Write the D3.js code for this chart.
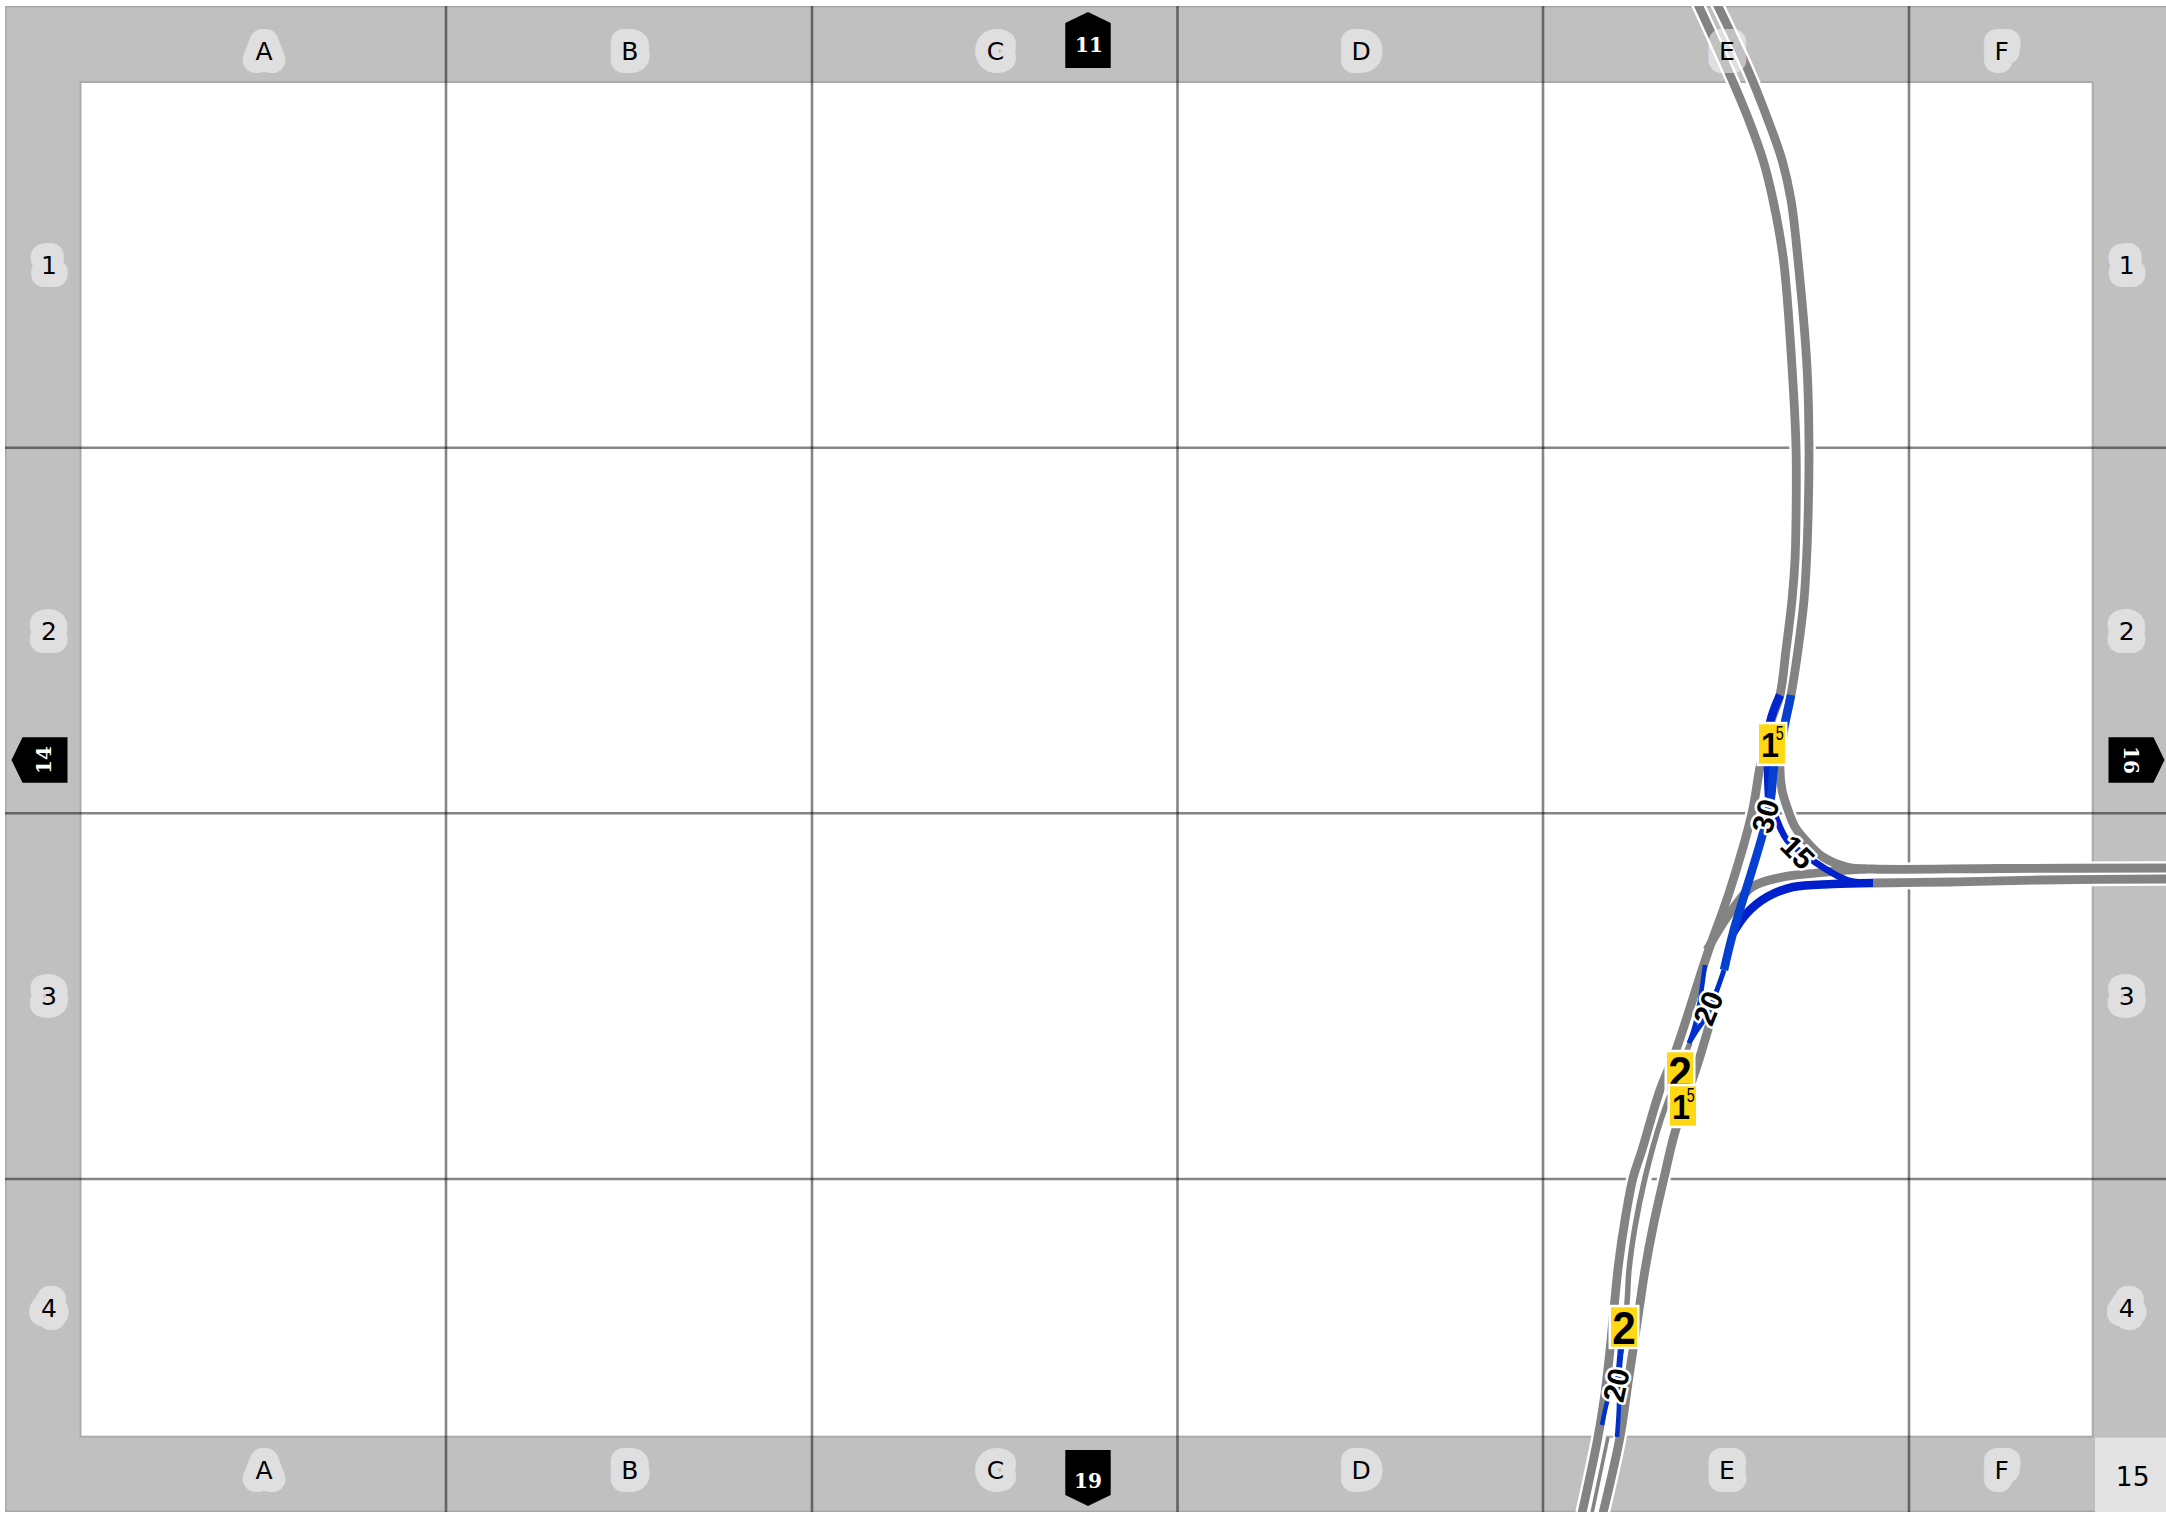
<!DOCTYPE html>
<html>
<head>
<meta charset="utf-8">
<script src="https://cdn.jsdelivr.net/npm/d3@7"></script>
<style>
  body { margin: 0; background: #fff; }
  svg { display: block; }
</style>
</head>
<body>
<div id="map"></div>
<script>
// Plan values, in map units measured from the plan's top left corner
const colLabels = ["A", "B", "C", "D", "E", "F"]
const rowLabels = ["1", "2", "3", "4"]
const colEdges = [0.5, 366, 732, 1097.5, 1463, 1829, 2012.7]
const rowEdges = [0, 365.7, 731.3, 1097, 1354.7]
const sheetNumber = "15"

const trackWestMain = [[1616,-82],[1650,-7],[1668,36],[1683,78],[1693,118],[1703.5,178],[1712,285],[1716,365],[1716,438],[1715,478],[1712,518],[1706,568],[1700,613],[1690,642],[1680,685],[1672,731],[1650,808],[1627,873],[1596,968],[1580,1008],[1562,1068],[1553,1096],[1545,1138],[1538.7,1181],[1534.5,1221],[1530,1268],[1525,1311],[1518,1355],[1502,1431]]
const trackEastMain = [[1635,-82],[1668,-12],[1688,38],[1702,78],[1711,118],[1718,178],[1727,285],[1729,365],[1728,438],[1726.5,478],[1724,518],[1718,568],[1711,613],[1705,641],[1700,685],[1702,708],[1707,725],[1715,745],[1727,760],[1743,775],[1767,785],[1793,787],[1920,786.5],[2090,786]]
const trackCurveSW = [[1627,868],[1650,831],[1672,805],[1703,795],[1737,791],[1767,788],[1787,787]]
const trackEastLower = [[1793,801],[1870,800],[1960,798],[2090,797]]
const trackSouthRight = [[1636,921],[1627,951],[1618,981],[1595,1050],[1584,1096],[1573,1145],[1565,1188],[1560,1221],[1553,1268],[1548,1301],[1540,1355],[1523,1431]]
const trackSouthCentre = [[1610,961],[1581,1038],[1565,1096],[1555,1145],[1549,1188],[1547,1221],[1541,1271]]
const trackSouthCentreEnd = [[1528,1355],[1512,1431]]

const slowCurveTop = [[1700,613],[1690,641],[1688,685],[1689,715]]
const slowCurveEast = [[1689,715],[1697,738],[1707,758],[1732,778],[1767,798],[1793,801]]
const slowStraight = [[1711,613],[1705,641],[1694,685],[1691,715],[1683,751],[1653,851],[1644,888]]
const slowCurveSouth = [[1793,801],[1753,802],[1713,805],[1687,815],[1667,831],[1653,851]]
const slowJoinRight = [[1644,888],[1637,908],[1627,933],[1617,948],[1609,961]]
const slowJoinLeft = [[1625,883],[1620,918],[1615,943],[1609,961]]
const slowFootCentre = [[1541,1265],[1538,1298]]
const slowFootLeft = [[1538,1298],[1530,1311],[1522,1343]]
const slowFootRight = [[1538,1298],[1539,1321],[1537,1355]]

const signNames = [["1", "5"], ["2", ""], ["1", "5"], ["2", ""]]
const signSpots = [[1692,662],[1600,990],[1603,1024],[1544,1245]]
const speedNames = ["30", "15", "20", "20"]
const speedSpots = [[1685,734],[1718,770],[1628,926],[1536,1303]]
const speedAngles = [-75, 45, -68, -78]
const badgeNames = ["11", "19", "14", "16"]
const badgeSpots = [[1008,-42],[1008,1396],[-40.5,678],[2056.5,678]]
const badgeAngles = [0, 180, -90, 90]
const badgeTextAngles = [0, 0, -90, 90]

const WIDTH = 2166
const HEIGHT = 1513

const x = d3.scaleLinear().domain([0, 2086]).range([80, WIDTH])
const y = d3.scaleLinear().domain([0, 1431]).range([82, HEIGHT])

const svg = d3.select("#map").append("svg")
  .attr("width", WIDTH)
  .attr("height", HEIGHT)

svg.append("defs").append("clipPath").attr("id", "sheet")
  .append("rect")
  .attr("x", 5).attr("y", 6)
  .attr("width", WIDTH - 5).attr("height", 1506)

const g = svg.append("g").attr("clip-path", "url(#sheet)")

const innerW = colEdges[colEdges.length - 1]
const innerH = rowEdges[rowEdges.length - 1]

// Frame
g.append("rect")
  .attr("x", 5.5).attr("y", 6.5)
  .attr("width", WIDTH).attr("height", 1505)
  .attr("fill", "#c0c0c0")
  .attr("stroke", "#a8a8a8")
  .attr("stroke-width", 2)

g.append("rect")
  .attr("x", x(colEdges[0])).attr("y", y(0))
  .attr("width", x(innerW) - x(colEdges[0])).attr("height", y(innerH) - y(0))
  .attr("fill", "#fff")
  .attr("stroke", "#aaa")
  .attr("stroke-width", 2)

// Grid
g.selectAll(".col-line").data(colEdges.slice(1, -1)).enter().append("line")
  .attr("x1", d => x(d)).attr("x2", d => x(d))
  .attr("y1", y(-76)).attr("y2", y(1430))
  .attr("stroke", "#000").attr("stroke-opacity", 0.48).attr("stroke-width", 2.6)

g.selectAll(".row-line").data(rowEdges.slice(1, -1)).enter().append("line")
  .attr("y1", d => y(d)).attr("y2", d => y(d))
  .attr("x1", x(-75)).attr("x2", WIDTH)
  .attr("stroke", "#000").attr("stroke-opacity", 0.48).attr("stroke-width", 2.6)

// Corner sheet number
g.append("rect")
  .attr("x", x(2015)).attr("y", y(1355.7))
  .attr("width", 80).attr("height", 80)
  .attr("fill", "#e3e3e3")

const trackLine = d3.line()
  .x(d => x(d[0]))
  .y(d => y(d[1]))
  .curve(d3.curveCatmullRom.alpha(0.5))

function drawTrack(points, stroke, width) {
  g.append("path")
    .attr("d", trackLine(points))
    .attr("fill", "none")
    .attr("stroke", stroke)
    .attr("stroke-width", width)
}

const GREY = "#838383"
const CASING = 13.5
const TRACK = 8.8

// Centre track sits between the two outer ones, so their casings trim it
drawTrack(trackSouthCentre, "#fff", CASING)
drawTrack(trackSouthCentreEnd, "#fff", CASING)

const casedTracks = [trackCurveSW, trackEastLower, trackWestMain, trackEastMain, trackSouthRight]
casedTracks.forEach(t => drawTrack(t, "#fff", CASING))
drawTrack(trackSouthCentre, GREY, 5.5)
drawTrack(trackSouthCentreEnd, GREY, 3.6)
casedTracks.forEach(t => drawTrack(t, GREY, TRACK))

// Slow sections
drawTrack(slowCurveSouth, "#0020cc", 8.5)
drawTrack(slowCurveEast, "#0020cc", 6.5)
drawTrack(slowCurveTop, "#0026cc", 8.5)
drawTrack(slowStraight, "#0640d0", 8.5)
drawTrack(slowJoinRight, "#0030cc", 5)
drawTrack(slowJoinLeft, "#0030cc", 4.5)
drawTrack(slowFootCentre, "#0030cc", 6)
drawTrack(slowFootLeft, "#0030cc", 4.5)
drawTrack(slowFootRight, "#0030cc", 4.5)

// Speed numbers
g.selectAll(".speed").data(speedNames).enter().append("text")
  .attr("transform", (d, i) => `translate(${x(speedSpots[i][0])}, ${y(speedSpots[i][1])}) rotate(${speedAngles[i]})`)
  .attr("text-anchor", "middle")
  .attr("dy", "0.36em")
  .attr("font-family", "Liberation Sans")
  .attr("font-weight", "bold")
  .attr("font-size", 30)
  .attr("fill", "#000")
  .attr("stroke", "#fff")
  .attr("stroke-width", 5)
  .attr("stroke-linejoin", "round")
  .attr("paint-order", "stroke")
  .text(d => d)

// Yellow gradient signs
const signs = g.selectAll(".sign").data(signNames).enter().append("g")
  .attr("transform", (d, i) => `translate(${x(signSpots[i][0])}, ${y(signSpots[i][1])})`)

signs.append("rect")
  .attr("x", -13).attr("y", -19.7)
  .attr("width", 26).attr("height", 39.4)
  .attr("fill", "#ffd814")
  .attr("stroke", "#fff")
  .attr("stroke-width", 5)
  .attr("paint-order", "stroke")

signs.append("text")
  .attr("transform", d => d[1] ? "translate(-2, 13) scale(0.9, 1)" : "translate(0, 16.5) scale(0.92, 1)")
  .attr("text-anchor", "middle")
  .attr("font-family", "Liberation Sans")
  .attr("font-weight", "bold")
  .attr("font-size", d => d[1] ? 36 : 46)
  .text(d => d[0])

signs.filter(d => d[1]).append("text")
  .attr("transform", "translate(7.8, -4) scale(0.72, 1)")
  .attr("text-anchor", "middle")
  .attr("font-family", "Liberation Sans")
  .attr("font-size", 20)
  .text(d => d[1])

// Junction shields to neighbouring sheets
const badges = g.selectAll(".badge").data(badgeNames).enter().append("g")
  .attr("transform", (d, i) => `translate(${x(badgeSpots[i][0])}, ${y(badgeSpots[i][1])})`)

badges.append("path")
  .attr("d", "M0,-28 L22.7,-17 L22.7,28 L-22.7,28 L-22.7,-17 Z")
  .attr("transform", (d, i) => `rotate(${badgeAngles[i]})`)
  .attr("fill", "#000")

badges.append("text")
  .attr("transform", (d, i) => {
    const off = i === 1 ? -3 : (i === 2 ? 4 : 5)
    const side = i === 0 ? 1 : 0
    return `rotate(${badgeAngles[i]}) translate(${side}, ${off}) rotate(${badgeTextAngles[i] - badgeAngles[i]})`
  })
  .attr("text-anchor", "middle")
  .attr("dy", "0.36em")
  .attr("font-family", "DejaVu Serif")
  .attr("font-weight", "bold")
  .attr("font-size", 20)
  .attr("fill", "#fff")
  .text(d => d)

// Grid references, halo is the text stroke
function gridLabel(sel) {
  sel.attr("text-anchor", "middle")
    .attr("dy", "0.36em")
    .attr("font-family", "DejaVu Sans")
    .attr("font-size", 25)
    .attr("fill", "#000")
    .attr("stroke", "#fff")
    .attr("stroke-opacity", 0.5)
    .attr("stroke-width", 26)
    .attr("stroke-linejoin", "round")
    .attr("paint-order", "stroke")
    .text(d => d.name)
}

const colMids = d3.pairs(colEdges).map(p => (p[0] + p[1]) / 2 + 0.8)
const rowMids = d3.pairs(rowEdges).map(p => (p[0] + p[1]) / 2)

const colRefs = colLabels.flatMap((name, i) => [
  { name, px: x(colMids[i]), py: y(-31.5) },
  { name, px: x(colMids[i]), py: y(1388) }
])
const rowRefs = rowLabels.flatMap((name, i) => [
  { name, px: x(-31), py: y(rowMids[i]) },
  { name, px: x(2046.7), py: y(rowMids[i]) }
])

g.selectAll(".ref").data(colRefs.concat(rowRefs)).enter().append("text")
  .attr("x", d => d.px)
  .attr("y", d => d.py)
  .call(gridLabel)

g.append("text")
  .attr("x", x(2052.7))
  .attr("y", y(1394.7))
  .attr("text-anchor", "middle")
  .attr("dy", "0.36em")
  .attr("font-family", "DejaVu Sans")
  .attr("font-size", 26.5)
  .text(sheetNumber)
</script>
</body>
</html>
